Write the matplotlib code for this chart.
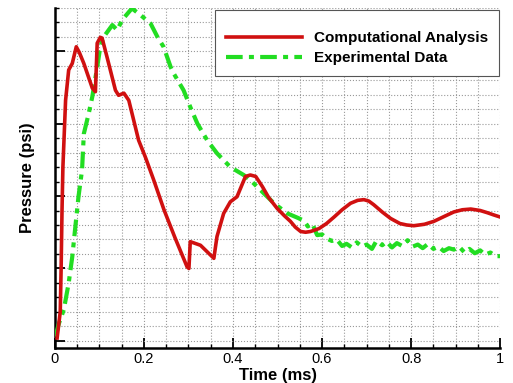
import numpy as np
import matplotlib
matplotlib.use("Agg")
import matplotlib.pyplot as plt
from matplotlib.ticker import MultipleLocator, FuncFormatter

plt.rcParams['font.family'] = ['Liberation Sans', 'DejaVu Sans']

# computational analysis
comp_t = [0.005, 0.012, 0.014, 0.016, 0.018, 0.024, 0.031, 0.039, 0.048, 0.055,
          0.065, 0.084, 0.091, 0.095, 0.102, 0.106, 0.117, 0.136, 0.143, 0.155,
          0.166, 0.188, 0.203, 0.222, 0.245, 0.270, 0.297, 0.301, 0.304, 0.327,
          0.357, 0.364, 0.379, 0.394, 0.409, 0.428, 0.439, 0.451, 0.466, 0.480,
          0.499, 0.515, 0.529, 0.540, 0.552, 0.563, 0.574, 0.593, 0.610, 0.627,
          0.645, 0.664, 0.680, 0.694, 0.705, 0.716, 0.735, 0.754, 0.775, 0.790,
          0.806, 0.830, 0.851, 0.875, 0.896, 0.915, 0.934, 0.955, 0.971, 0.985,
          1.0]
comp_p = [0.04, 0.40, 1.00, 1.80, 2.40, 3.32, 3.74, 3.83, 4.06, 3.98,
          3.83, 3.49, 3.44, 4.11, 4.19, 4.18, 3.92, 3.46, 3.39, 3.42,
          3.32, 2.77, 2.54, 2.22, 1.81, 1.42, 1.02, 1.00, 1.37, 1.32,
          1.14, 1.44, 1.76, 1.92, 1.99, 2.27, 2.29, 2.27, 2.13, 1.98,
          1.83, 1.73, 1.65, 1.57, 1.51, 1.50, 1.51, 1.55, 1.62, 1.71,
          1.81, 1.90, 1.94, 1.95, 1.93, 1.88, 1.78, 1.69, 1.62, 1.60,
          1.59, 1.61, 1.65, 1.72, 1.78, 1.81, 1.82, 1.80, 1.77, 1.74,
          1.71]

# experimental data (noisy)
exp_t = [0.001, 0.009, 0.020, 0.031, 0.039, 0.046, 0.053, 0.061, 0.065, 0.076,
         0.084, 0.095, 0.102, 0.110, 0.129, 0.140, 0.151, 0.173, 0.192, 0.215,
         0.230, 0.244, 0.260, 0.267, 0.289, 0.304, 0.320, 0.342, 0.364, 0.394,
         0.424, 0.439, 0.462, 0.492, 0.522, 0.545, 0.559, 0.568, 0.578, 0.589,
         0.600, 0.611, 0.622, 0.633, 0.645, 0.655, 0.667, 0.678, 0.690, 0.700,
         0.712, 0.722, 0.735, 0.745, 0.757, 0.768, 0.780, 0.792, 0.803, 0.815,
         0.826, 0.838, 0.850, 0.862, 0.873, 0.885, 0.896, 0.908, 0.920, 0.931,
         0.943, 0.955, 0.966, 0.978, 0.990, 1.0]
exp_p = [0.06, 0.24, 0.43, 0.80, 1.16, 1.58, 1.99, 2.36, 2.86, 3.14,
         3.37, 3.78, 4.06, 4.20, 4.36, 4.29, 4.43, 4.59, 4.50, 4.38,
         4.20, 4.06, 3.78, 3.69, 3.46, 3.23, 3.00, 2.77, 2.59, 2.40,
         2.29, 2.22, 2.08, 1.90, 1.76, 1.70, 1.66, 1.58, 1.62, 1.46,
         1.47, 1.41, 1.38, 1.40, 1.31, 1.34, 1.29, 1.36, 1.30, 1.33,
         1.27, 1.38, 1.32, 1.37, 1.29, 1.35, 1.31, 1.39, 1.30, 1.33,
         1.28, 1.34, 1.27, 1.30, 1.24, 1.28, 1.26, 1.30, 1.22, 1.27,
         1.21, 1.25, 1.19, 1.22, 1.17, 1.17]

fig = plt.figure(figsize=(5.13, 3.83), dpi=100)
ax = fig.add_axes([0.107, 0.091, 0.868, 0.889])

ax.plot(comp_t, comp_p, color='#d01010', lw=2.6, label='Computational Analysis', zorder=4)
ax.plot(exp_t, exp_p, color='#22dd22', lw=3.0, ls=(0, (4, 1.5, 1.2, 1.5)),
        label='Experimental Data', zorder=3)

ax.set_xlim(0, 1)
ax.set_ylim(-0.1, 4.6)
ax.xaxis.set_major_locator(MultipleLocator(0.2))
ax.xaxis.set_minor_locator(MultipleLocator(0.05))
ax.yaxis.set_major_locator(MultipleLocator(1))
ax.yaxis.set_minor_locator(MultipleLocator(0.2))
ax.xaxis.set_major_formatter(FuncFormatter(lambda v, p: '%g' % round(v, 2)))
ax.set_yticklabels([])

ax.grid(which='both', ls=':', color='#999999', lw=0.8)
ax.set_axisbelow(True)
ax.tick_params(which='major', direction='in', length=7, width=1.3, labelsize=10.5, pad=3)
ax.tick_params(which='minor', direction='in', length=3, width=1.0)
ax.tick_params(top=False, right=False)
for s in ['top', 'right']:
    ax.spines[s].set_visible(False)
for s in ['left', 'bottom']:
    ax.spines[s].set_linewidth(1.8)

ax.set_xlabel('Time (ms)', fontsize=12, fontweight='bold', labelpad=1)
ax.set_ylabel('Pressure (psi)', fontsize=12, fontweight='bold', labelpad=11)

# tiny blank title just to leave a little extra room above the entries
leg = ax.legend(loc='upper right', bbox_to_anchor=(0.998, 0.993), borderaxespad=0,
                fancybox=False, prop={'weight': 'bold', 'size': 11}, handlelength=5.0,
                handletextpad=0.8, borderpad=0.7, labelspacing=0.4, framealpha=1,
                title=' ', title_fontsize=2)
leg.get_frame().set_edgecolor('#555555')
leg.get_frame().set_linewidth(0.8)

fig.savefig('out.png', dpi=100)
